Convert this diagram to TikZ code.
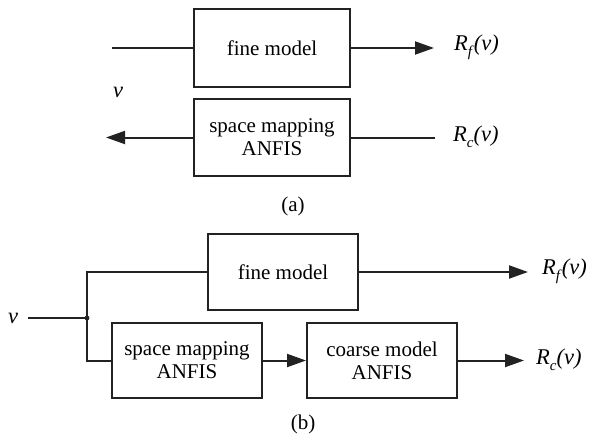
\documentclass[tikz,border=0pt]{standalone}
\usepackage{fontspec}
\setmainfont{Liberation Serif}
\usetikzlibrary{arrows.meta}
\definecolor{ln}{HTML}{222222}
\newcommand{\lbl}[2]{\textit{#1}\raisebox{-0.55ex}{\fontsize{15}{15}\selectfont\textit{#2}}\textit{(v)}}
\begin{document}
\begin{tikzpicture}[x=1pt,y=-1pt,
  blk/.style={draw=ln,line width=2pt,minimum width=#1,align=center,inner sep=0pt,
    font=\fontsize{21}{23}\selectfont},
  wire/.style={draw=ln,line width=2pt},
  arr/.style={wire,-{Triangle[length=19pt,width=13pt]}},
  txt/.style={inner sep=0pt,font=\fontsize{21}{23}\selectfont},
  rtxt/.style={inner sep=0pt,font=\fontsize{22.5}{24}\selectfont}]
\useasboundingbox (0,0) rectangle (589,439);
% (a)
\node[blk=156pt,minimum height=78pt] (fineA) at (272,48) {fine model};
\node[blk=156pt,minimum height=77pt] (smA) at (272,137.5) {space mapping\\ANFIS};
\coordinate (inA) at (112,48);
\coordinate (tipRfA) at (434,48);
\coordinate (outA) at (106,137.5);
\coordinate (inRcA) at (435,137.5);
\node[rtxt,anchor=west] (RfA) at (454,47) {\lbl{R}{f}};
\node[rtxt,anchor=west] (RcA) at (453,136.5) {\lbl{R}{c}};
\node[rtxt] (vA) at (118,92) {\textit{v}};
\draw[wire] (inA) -- (fineA.west);
\draw[arr] (fineA.east) -- (tipRfA);
\draw[wire] (inRcA) -- (smA.east);
\draw[arr] (smA.west) -- (outA);
\node[txt] (capA) at (293,206) {(a)};
% (b)
\node[blk=150pt,minimum height=76pt] (fineB) at (283,272) {fine model};
\node[blk=150pt,minimum height=75pt] (smB) at (187,360.5) {space mapping\\ANFIS};
\node[blk=150pt,minimum height=75pt] (coarse) at (382,360.5) {coarse model\\ANFIS};
\coordinate (vin) at (28,318);
\coordinate (J) at (87,318);
\coordinate (tipRfB) at (528,272);
\coordinate (tipRcB) at (524,360.5);
\node[rtxt] (vB) at (13,318) {\textit{v}};
\node[rtxt,anchor=west] (RfB) at (542,271) {\lbl{R}{f}};
\node[rtxt,anchor=west] (RcB) at (536,359.5) {\lbl{R}{c}};
\draw[wire] (vin) -- (J);
\draw[wire] (fineB.west) -| (J) |- (smB.west);
\fill[ln] (J) circle (2.4pt);
\draw[arr] (smB.east) -- (coarse.west);
\draw[arr] (fineB.east) -- (tipRfB);
\draw[arr] (coarse.east) -- (tipRcB);
\node[txt] (capB) at (303,424) {(b)};
\end{tikzpicture}
\end{document}
